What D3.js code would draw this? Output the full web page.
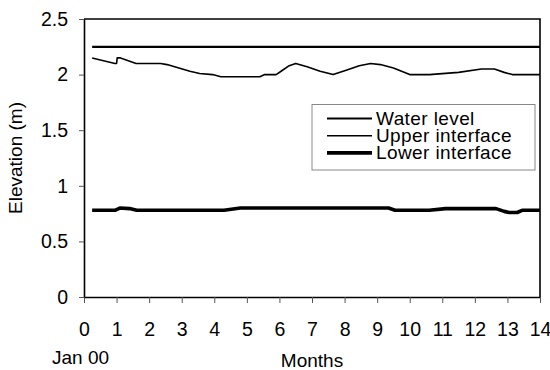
<!DOCTYPE html>
<html>
<head>
<meta charset="utf-8">
<script src="https://cdn.jsdelivr.net/npm/d3@7"></script>
<style>
  body { margin: 0; background: #fff; }
  text { font-family: "Liberation Sans", Arial, sans-serif; fill: #000; }
</style>
</head>
<body>
<script>
// data (months since Jan 00, elevation in m)
var waterMonths = [0.25, 14];
var waterElev   = [2.25, 2.25];

var upperMonths = [0.25, 0.95, 1.0, 1.02, 1.12, 1.6, 2.35, 2.55, 3.25, 3.55, 3.95, 4.2, 5.4, 5.55, 5.9,
                   6.05, 6.3, 6.5, 6.85, 7.25, 7.65, 8.05, 8.45, 8.8, 9.1, 9.5, 10.0, 10.6, 11.5, 12.2,
                   12.6, 12.9, 13.15, 14];
var upperElev   = [2.15, 2.10, 2.10, 2.15, 2.15, 2.10, 2.10, 2.09, 2.03, 2.01, 2.0, 1.98, 1.98, 2.0, 2.0,
                   2.03, 2.08, 2.10, 2.07, 2.03, 2.0, 2.04, 2.08, 2.10, 2.09, 2.06, 2.0, 2.0, 2.02, 2.05,
                   2.05, 2.02, 2.0, 2.0];

var lowerMonths = [0.25, 0.95, 1.1, 1.4, 1.62, 4.3, 4.8, 9.35, 9.55, 10.6, 11.1, 12.65, 12.9, 13.05, 13.3, 13.45, 14];
var lowerElev   = [0.78, 0.78, 0.80, 0.795, 0.78, 0.78, 0.80, 0.80, 0.78, 0.78, 0.795, 0.795, 0.77, 0.76, 0.76, 0.78, 0.78];

var xTicks = d3.range(0, 15);
var yTicks = [0, 0.5, 1, 1.5, 2, 2.5];
var seriesNames = ["Water level", "Upper interface", "Lower interface"];
var seriesWidths = [2.2, 1.6, 3.6];

var margin = {left: 84, right: 10, top: 19, bottom: 73},
    width = 550 - margin.left - margin.right,
    height = 370 - margin.top - margin.bottom;

var svg = d3.select("body")
    .append("svg")
    .attr("width", 550)
    .attr("height", 370);

var g = svg.append("g")
    .attr("transform", "translate(" + margin.left + "," + margin.top + ")");

var x = d3.scaleLinear().domain([0, 14]).range([0, width]);
var y = d3.scaleLinear().domain([0, 2.5]).range([height, 0]);

// frame top and right
g.append("path")
    .attr("d", "M0,0H" + width + "V" + height)
    .attr("fill", "none")
    .attr("stroke", "#000")
    .attr("stroke-width", 1.6);

var xAxis = g.append("g")
    .attr("transform", "translate(0," + height + ")")
    .call(d3.axisBottom(x).tickValues(xTicks).tickSizeInner(6).tickSizeOuter(0).tickPadding(19));

var yAxis = g.append("g")
    .call(d3.axisLeft(y).tickValues(yTicks).tickFormat(d3.format("")).tickSizeInner(5).tickSizeOuter(0).tickPadding(11));

[xAxis, yAxis].forEach(function (a) {
    a.select(".domain").attr("stroke", "#000").attr("stroke-width", 1.6);
    a.selectAll(".tick line").attr("stroke", "#555").attr("stroke-width", 1);
    a.selectAll(".tick text")
        .attr("font-size", 19.5)
        .attr("font-family", "'Liberation Sans', Arial, sans-serif");
});

var line = d3.line()
    .x(function (d) { return x(d[0]); })
    .y(function (d) { return y(d[1]); });

function pairs(ms, vs) {
    return ms.map(function (m, i) { return [m, vs[i]]; });
}

var series = [pairs(waterMonths, waterElev), pairs(upperMonths, upperElev), pairs(lowerMonths, lowerElev)];

g.selectAll(".series")
    .data(series)
    .enter().append("path")
    .attr("class", "series")
    .attr("d", line)
    .attr("fill", "none")
    .attr("stroke", "#000")
    .attr("stroke-linejoin", "round")
    .attr("stroke-width", function (d, i) { return seriesWidths[i]; });

// legend
var lg = svg.append("g").attr("transform", "translate(312,104.5)");
lg.append("rect")
    .attr("width", 223)
    .attr("height", 65.5)
    .attr("fill", "#fff")
    .attr("stroke", "#888")
    .attr("stroke-width", 1);

var rows = lg.selectAll(".row")
    .data(seriesNames)
    .enter().append("g")
    .attr("transform", function (d, i) { return "translate(0," + (14 + i * 17.2) + ")"; });

rows.append("line")
    .attr("x1", 15).attr("x2", 60)
    .attr("stroke", "#000")
    .attr("stroke-width", function (d, i) { return seriesWidths[i]; });

rows.append("text")
    .attr("x", 64)
    .attr("y", 6)
    .attr("font-size", 19)
    .attr("letter-spacing", 0.4)
    .text(function (d) { return d; });

// axis titles
svg.append("text")
    .attr("transform", "translate(22," + (margin.top + height / 2) + ") rotate(-90)")
    .attr("text-anchor", "middle")
    .attr("font-size", 19)
    .text("Elevation (m)");

svg.append("text")
    .attr("x", margin.left + width / 2)
    .attr("y", 367)
    .attr("text-anchor", "middle")
    .attr("font-size", 19)
    .text("Months");

svg.append("text")
    .attr("x", 52)
    .attr("y", 364)
    .attr("font-size", 19)
    .text("Jan 00");
</script>
</body>
</html>
